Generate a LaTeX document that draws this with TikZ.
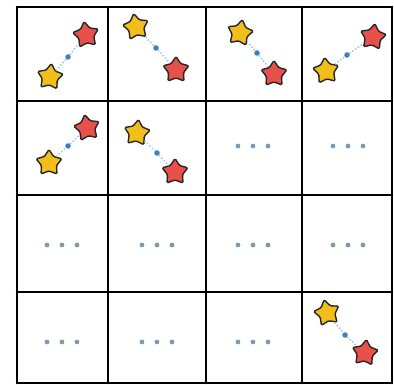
\documentclass[tikz,border=0pt]{standalone}
\usepackage{xcolor}
\usepackage{tikz}
\usetikzlibrary{shapes.geometric}
\definecolor{stargold}{HTML}{F2BE1C}
\definecolor{starred}{HTML}{E8504C}
\definecolor{linkblue}{HTML}{8EC4EA}
\definecolor{dotblue}{HTML}{3F7EC0}
\definecolor{moregray}{HTML}{7D9AB4}

\begin{document}
\begin{tikzpicture}[x=1pt,y=-1pt,
  ystar/.style={star,star points=5,star point ratio=1.7,minimum size=27pt,inner sep=0pt,
    draw=black!85,line width=1.4pt,rounded corners=1.2pt,fill=stargold},
  rstar/.style={ystar,fill=starred},
  mid/.style={circle,fill=dotblue,minimum size=5.5pt,inner sep=0pt},
  link/.style={linkblue,line width=1.4pt,dotted},
  more/.style={circle,fill=moregray,minimum size=4.8pt,inner sep=0pt},
  gridline/.style={black,line width=2.6pt,line cap=round}]
  \useasboundingbox (0,0) rectangle (394,385);
  % grid
  \foreach \gx in {17,108,206,302,392}
    \draw[gridline] (\gx,7) -- (\gx,383);
  \foreach \gy in {7,101,195,292,383}
    \draw[gridline] (17,\gy) -- (392,\gy);
  % row 1
  \node[rstar,rotate=8] (r1) at (86,35) {};
  \node[ystar,rotate=-6] (y1) at (50,77) {};
  \node[mid] (d1) at (68,57) {};
  \draw[link] (y1) -- (d1) -- (r1);
  \node[ystar,rotate=10] (y2) at (136,27) {};
  \node[rstar] (r2) at (176,70) {};
  \node[mid] (d2) at (156,48) {};
  \draw[link] (y2) -- (d2) -- (r2);
  \node[ystar,rotate=-10] (y3) at (240,33) {};
  \node[rstar] (r3) at (274,74) {};
  \node[mid] (d3) at (257,53) {};
  \draw[link] (y3) -- (d3) -- (r3);
  \node[ystar,rotate=6] (y4) at (326,71) {};
  \node[rstar,rotate=-8] (r4) at (373,37) {};
  \node[mid] (d4) at (347,55) {};
  \draw[link] (y4) -- (d4) -- (r4);
  % row 2
  \node[rstar,rotate=10] (r5) at (87,128) {};
  \node[ystar] (y5) at (49,163) {};
  \node[mid] (d5) at (68,146) {};
  \draw[link] (y5) -- (d5) -- (r5);
  \node[ystar,rotate=-6] (y6) at (137,133) {};
  \node[rstar] (r6) at (175,172) {};
  \node[mid] (d6) at (157,153) {};
  \draw[link] (y6) -- (d6) -- (r6);
  % ellipsis cells
  \foreach \cx/\cy [count=\k] in {253/146,348/146,62/245,157/245,253/245,348/245,62/342,157/342,253/342}{
    \node[more] (m\k b) at (\cx,\cy) {};
    \node[more] (m\k a) at (\cx-15,\cy) {};
    \node[more] (m\k c) at (\cx+15,\cy) {};
  }
  % last cell
  \node[ystar,rotate=12] (y7) at (327,313) {};
  \node[rstar,rotate=-6] (r7) at (365,353) {};
  \node[mid] (d7) at (345,335) {};
  \draw[link] (y7) -- (d7) -- (r7);
\end{tikzpicture}
\end{document}
